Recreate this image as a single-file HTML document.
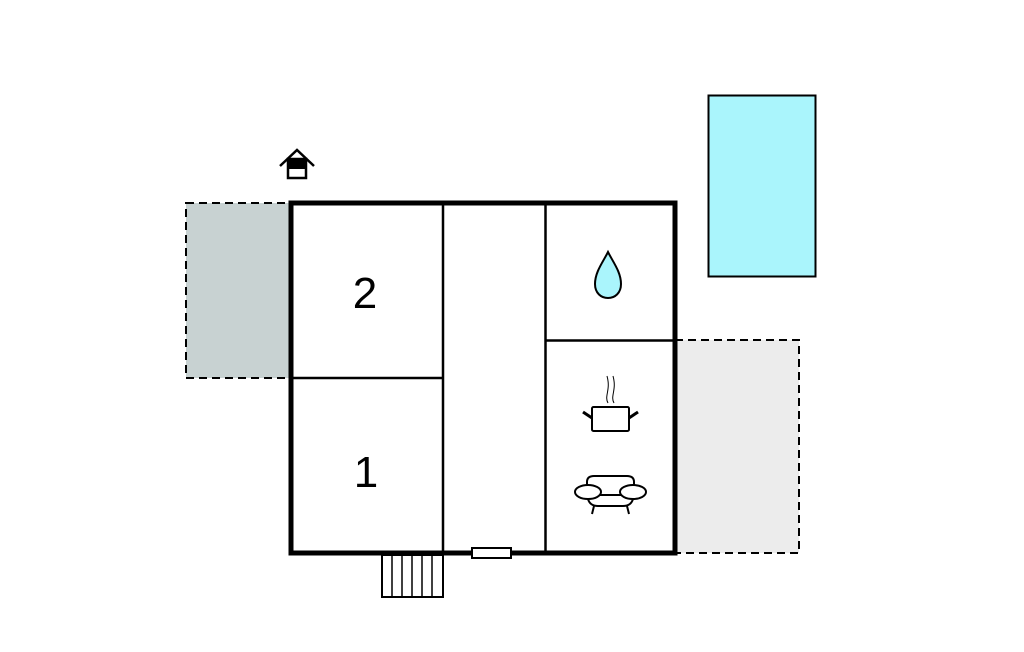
<!DOCTYPE html>
<html><head><meta charset="utf-8"><style>html,body{margin:0;padding:0;background:#fff}svg{display:block}</style></head>
<body>
<svg width="1024" height="652" viewBox="0 0 1024 652" xmlns="http://www.w3.org/2000/svg">
<rect x="186" y="203" width="105" height="175" fill="#c8d2d2" stroke="#000" stroke-width="2" stroke-dasharray="8,5"/>
<rect x="675" y="340" width="124" height="213" fill="#ececec" stroke="#000" stroke-width="2" stroke-dasharray="8,5"/>
<rect x="708.5" y="95.5" width="107" height="181" fill="#aaf5fc" stroke="#000" stroke-width="2"/>
<rect x="291" y="203" width="384" height="350" fill="#fff" stroke="#000" stroke-width="5"/>
<g stroke="#000" stroke-width="2.5">
<line x1="443" y1="203" x2="443" y2="553"/>
<line x1="545.5" y1="203" x2="545.5" y2="553"/>
<line x1="291" y1="378" x2="443" y2="378"/>
<line x1="545" y1="340.5" x2="675" y2="340.5"/>
</g>
<text x="365" y="308" font-family="Liberation Sans, sans-serif" font-size="44" text-anchor="middle">2</text>
<text x="366" y="487" font-family="Liberation Sans, sans-serif" font-size="44" text-anchor="middle">1</text>
<rect x="382" y="555" width="61" height="42" fill="#fff" stroke="#000" stroke-width="2"/>
<g stroke="#000" stroke-width="1.5"><line x1="392" y1="555" x2="392" y2="597"/><line x1="402" y1="555" x2="402" y2="597"/><line x1="412" y1="555" x2="412" y2="597"/><line x1="422" y1="555" x2="422" y2="597"/><line x1="432" y1="555" x2="432" y2="597"/></g>
<rect x="472" y="548" width="39" height="10" fill="#fff" stroke="#000" stroke-width="2"/>
<path d="M280 166 L297 150 L314 166" fill="none" stroke="#000" stroke-width="2.5"/>
<rect x="288" y="159" width="18" height="19" fill="#fff" stroke="#000" stroke-width="2.5"/>
<rect x="288" y="159" width="18" height="10" fill="#000"/>
<path d="M608 252 C603 262 595 272 595 284 C595 293 601 298 608 298 C615 298 621 293 621 284 C621 272 613 262 608 252 Z" fill="#aaf5fc" stroke="#000" stroke-width="2"/>
<g fill="none" stroke="#000">
<path d="M608 403 C604 396 611 390 607 376 M614 403 C610 396 617 390 613 376" stroke-width="1"/>
<rect x="592" y="407" width="37" height="24" rx="1.5" stroke-width="2"/>
<line x1="583" y1="412" x2="592" y2="418" stroke-width="3"/>
<line x1="638" y1="412" x2="629" y2="418" stroke-width="3"/>
<path d="M587 490 L587 482 Q587 476 594 476 L627 476 Q634 476 634 482 L634 490" stroke-width="2"/>
<ellipse cx="588" cy="492" rx="13" ry="7" stroke-width="2" fill="#fff"/>
<ellipse cx="633" cy="492" rx="13" ry="7" stroke-width="2" fill="#fff"/>
<line x1="600" y1="495" x2="621" y2="495" stroke-width="2"/>
<path d="M588 499 Q590 506 598 506 L623 506 Q631 506 633 499" stroke-width="2"/>
<line x1="594" y1="506" x2="592" y2="514" stroke-width="2"/>
<line x1="627" y1="506" x2="629" y2="514" stroke-width="2"/>
</g>
</svg>
</body></html>
